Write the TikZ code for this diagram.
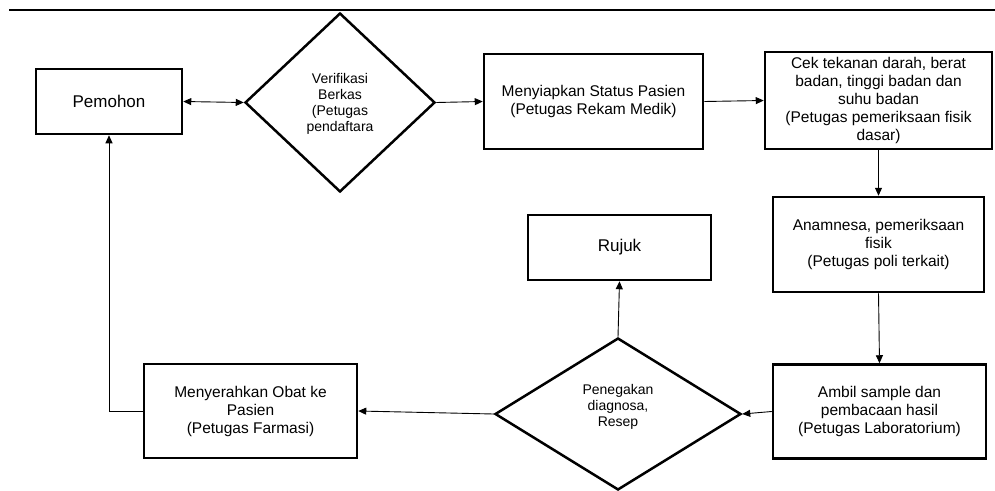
\documentclass[tikz,border=0pt]{standalone}
\usepackage{fontspec}
\setmainfont{Liberation Sans}
\usetikzlibrary{shapes.geometric,arrows.meta}
\begin{document}
\begin{tikzpicture}[x=1pt,y=-1pt,
  box/.style={draw,line width=2.5pt,rectangle,inner sep=0pt,align=center,font=\fontsize{15.5}{18}\selectfont},
  bigbox/.style={box,font=\fontsize{17}{20}\selectfont},
  dia/.style={draw,line width=2.5pt,diamond,inner sep=0pt},
  dtext/.style={align=center,font=\fontsize{14}{16}\selectfont,inner sep=0pt},
  tip/.style={Triangle[length=8pt,width=7pt]},
  conn/.style={line width=0.9pt,-{Triangle[length=8pt,width=7pt]}},
]
\useasboundingbox (0,0) rectangle (995,490);
\draw[line width=2pt] (9,10) -- (995,10);

\node[bigbox,minimum width=146pt,minimum height=65pt] (pemohon) at (109,101.5) {Pemohon};
\node[dia,minimum width=190pt,minimum height=179pt] (verif) at (340,102.5) {};
\node[dtext] (veriftext) at (340,104) {Verifikasi\\Berkas\\(Petugas\\pendaftara};
\node[box,minimum width=219pt,minimum height=95pt] (status) at (593.5,101.5) {Menyiapkan Status Pasien\\(Petugas Rekam Medik)};
\node[box,minimum width=227pt,minimum height=97pt] (cek) at (878.5,100.5) {Cek tekanan darah, berat\\badan, tinggi badan dan\\suhu badan\\(Petugas pemeriksaan fisik\\dasar)};
\node[box,minimum width=211pt,minimum height=95pt] (anam) at (878.5,244.5) {Anamnesa, pemeriksaan\\fisik\\(Petugas poli terkait)};
\node[bigbox,minimum width=183pt,minimum height=65pt] (rujuk) at (619.5,247.5) {Rujuk};
\node[box,minimum width=213pt,minimum height=94pt] (ambil) at (879.5,411.5) {Ambil sample dan\\pembacaan hasil\\(Petugas Laboratorium)};
\node[dia,minimum width=246pt,minimum height=152pt] (diag) at (618,414) {};
\node[dtext] (diagtext) at (618,407) {Penegakan\\diagnosa,\\Resep};
\node[box,minimum width=213pt,minimum height=94pt] (obat) at (250.5,411) {Menyerahkan Obat ke\\Pasien\\(Petugas Farmasi)};

\draw[line width=0.9pt,{Triangle[length=8pt,width=7pt]}-{Triangle[length=8pt,width=7pt]}] (pemohon.east) -- (verif.west);
\draw[conn] (verif.east) -- (status.west);
\draw[conn] (status.east) -- (cek.west);
\draw[conn] (cek.south) -- (anam.north);
\draw[conn] (anam.south) -- (ambil.north);
\draw[conn] (ambil.west) -- (diag.east);
\draw[conn] (diag.west) -- (obat.east);
\draw[conn] (diag.north) -- (rujuk.south);
\draw[conn] (obat.west) -| (pemohon.south);
\end{tikzpicture}
\end{document}
